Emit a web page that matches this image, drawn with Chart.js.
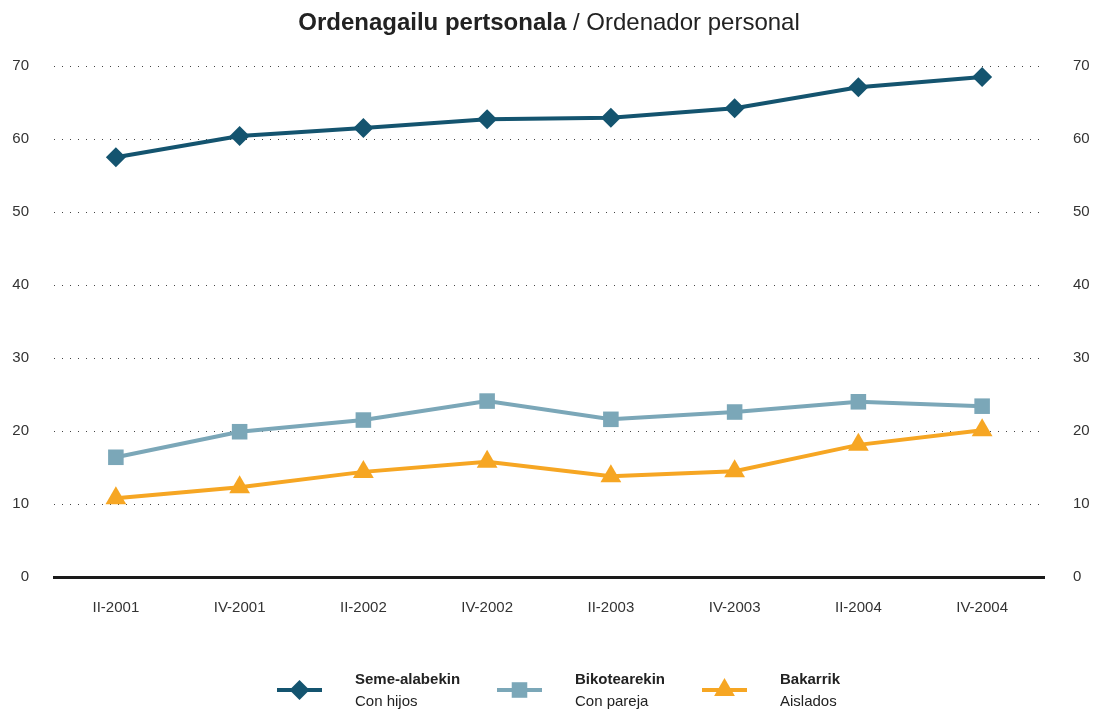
<!DOCTYPE html>
<html lang="en">
<head>
    <meta charset="UTF-8">
    <title>Ordenagailu pertsonala</title>
    <script src="https://cdn.jsdelivr.net/npm/chart.js"></script>
    <style>
        body { margin: 0; background: #fff; }
        #wrap { position: relative; width: 1097px; height: 713px; }
    </style>
</head>
<body>
    <div id="wrap"><canvas id="pcChart" width="1097" height="713"></canvas></div>

    <script>
        const quarters = ['II-2001', 'IV-2001', 'II-2002', 'IV-2002', 'II-2003', 'IV-2003', 'II-2004', 'IV-2004'];
        const withChildren = [57.5, 60.4, 61.5, 62.7, 62.9, 64.2, 67.1, 68.5];
        const withPartner = [16.4, 19.9, 21.5, 24.1, 21.6, 22.6, 24.0, 23.4];
        const alone = [10.8, 12.3, 14.4, 15.8, 13.8, 14.5, 18.1, 20.1];
        const yTicks = [0, 10, 20, 30, 40, 50, 60, 70];

        const FONT = '"Liberation Sans Narrow", "Arial Narrow", "Liberation Sans", Arial, sans-serif';
        const TEXT = '#333333';

        const series = [
            { eu: 'Seme-alabekin', es: 'Con hijos', data: withChildren, color: '#14546f', style: 'rectRot', r: 10 },
            { eu: 'Bikotearekin', es: 'Con pareja', data: withPartner, color: '#7ba7b8', style: 'rect', r: 11 },
            { eu: 'Bakarrik', es: 'Aislados', data: alone, color: '#f6a623', style: 'triangle', r: 12 }
        ];
        const legendX = [277, 497, 702];

        // title + legend drawn by hand
        const decorPlugin = {
            id: 'decor',
            afterDraw(chart) {
                const ctx = chart.ctx;
                ctx.save();
                ctx.textBaseline = 'middle';
                const bold = 'bold 24px ' + FONT;
                const normal = '24px ' + FONT;
                const t1 = 'Ordenagailu pertsonala';
                const t2 = ' / Ordenador personal';
                ctx.font = bold;
                const w1 = ctx.measureText(t1).width;
                ctx.font = normal;
                const w2 = ctx.measureText(t2).width;
                let x = 549 - (w1 + w2) / 2;
                ctx.fillStyle = '#222';
                ctx.textAlign = 'left';
                ctx.font = bold;
                ctx.fillText(t1, x, 23);
                ctx.font = normal;
                ctx.fillText(t2, x + w1, 23);

                series.forEach((s, i) => {
                    const lx = legendX[i];
                    ctx.strokeStyle = s.color;
                    ctx.lineWidth = 4;
                    ctx.beginPath();
                    ctx.moveTo(lx, 690);
                    ctx.lineTo(lx + 45, 690);
                    ctx.stroke();
                    ctx.fillStyle = s.color;
                    Chart.helpers.drawPoint(ctx, { pointStyle: s.style, radius: s.r, borderWidth: 0, rotation: 0 }, lx + 22.5, 690);
                    ctx.fillStyle = '#222';
                    ctx.font = 'bold 15px ' + FONT;
                    ctx.fillText(s.eu, lx + 78, 680);
                    ctx.font = '15px ' + FONT;
                    ctx.fillText(s.es, lx + 78, 702);
                });
                ctx.restore();
            }
        };

        const ctx = document.getElementById('pcChart').getContext('2d');
        new Chart(ctx, {
            type: 'line',
            data: {
                labels: quarters,
                datasets: series.map(s => ({
                    label: s.eu,
                    data: s.data,
                    borderColor: s.color,
                    backgroundColor: s.color,
                    borderWidth: 4,
                    pointStyle: s.style,
                    pointRadius: s.r,
                    pointHoverRadius: s.r,
                    pointBorderWidth: 0,
                    fill: false,
                    tension: 0,
                    yAxisID: 'y'
                }))
            },
            options: {
                responsive: false,
                animation: false,
                layout: { padding: { top: 66, bottom: 86, left: 0, right: 0 } },
                plugins: {
                    legend: { display: false },
                    title: { display: false },
                    tooltip: { enabled: false }
                },
                scales: {
                    x: {
                        offset: true,
                        grid: { display: false, drawTicks: false },
                        border: { display: true, color: '#1a1a1a', width: 3 },
                        ticks: { color: TEXT, font: { family: FONT, size: 15 }, padding: 22, maxRotation: 0 },
                        afterFit: s => { s.height = 50; }
                    },
                    y: {
                        position: 'left',
                        min: 0, max: 70,
                        afterBuildTicks: s => { s.ticks = yTicks.map(v => ({ value: v })); },
                        grid: {
                            drawTicks: false,
                            color: c => c.tick.value === 0 ? 'rgba(0,0,0,0)' : '#444',
                            lineWidth: 1
                        },
                        border: { display: false, dash: [1, 7] },
                        ticks: { color: TEXT, font: { family: FONT, size: 15 }, padding: 25 },
                        afterFit: s => { s.width = 54; }
                    },
                    y2: {
                        position: 'right',
                        min: 0, max: 70,
                        afterBuildTicks: s => { s.ticks = yTicks.map(v => ({ value: v })); },
                        grid: { display: false, drawTicks: false },
                        border: { display: false },
                        ticks: { color: TEXT, font: { family: FONT, size: 15 }, padding: 29 },
                        afterFit: s => { s.width = 53; }
                    }
                }
            },
            plugins: [decorPlugin]
        });
    </script>
</body>
</html>
